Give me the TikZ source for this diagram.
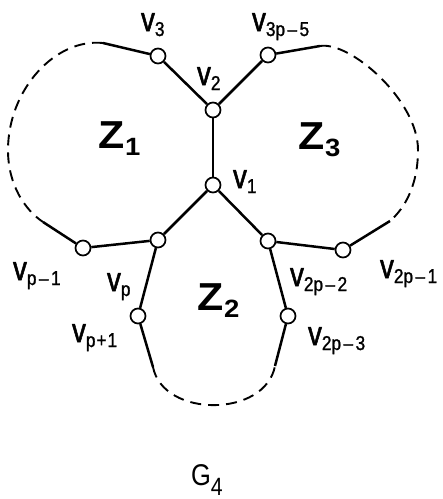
\documentclass[tikz,border=0pt]{standalone}
\usepackage{graphicx}
\usepackage{fontspec}
\newfontfamily\labf{Liberation Sans}[FakeStretch=0.82,FakeBold=1.5]
\newfontfamily\subf{Liberation Sans}[FakeStretch=0.86,FakeBold=1.2]
\newfontfamily\gf{Liberation Sans}[FakeStretch=0.85]
\newfontfamily\zedf{Liberation Sans}[FakeStretch=1.1]
\newcommand\dsh{\kern2.5pt\textendash\kern2.5pt}
\newcommand\lv[1]{{\labf\fontsize{34}{34}\selectfont v}\raisebox{-5pt}{\subf\fontsize{20}{20}\selectfont #1}}
\newcommand\lz[1]{{\zedf\bfseries\fontsize{39}{39}\selectfont Z}\kern1pt\raisebox{-7pt}{\zedf\bfseries\fontsize{25}{25}\selectfont #1}}
\tikzset{
  vtx/.style={circle,draw,fill=white,line width=1.7pt,minimum size=15pt,inner sep=0pt},
  edge/.style={line width=2.5pt},
  dashline/.style={line width=1.9pt,dash pattern=on 11pt off 7pt},
  lab/.style={anchor=base west,inner sep=0pt,outer sep=0pt}
}
\begin{document}
\begin{tikzpicture}[x=1pt,y=-1pt]
\useasboundingbox (0,0) rectangle (443,499);
% free ends
\coordinate (a1) at (103,43);
\coordinate (a2) at (43,222);
\coordinate (b1) at (320,46);
\coordinate (b2) at (390,221);
\coordinate (c1) at (153,367);
\coordinate (c2) at (275,366);
% dashed arcs
\draw[dashline] (a1) .. controls (55,38) and (8,90) .. (8,150) .. controls (8,185) and (25,210) .. (a2);
\draw[dashline] (b1) .. controls (350,41) and (418,100) .. (418,150) .. controls (418,185) and (405,208) .. (b2);
\draw[dashline] (c1) .. controls (163,418) and (265,418) .. (c2);
% vertices
\node[vtx] (v1) at (213,185) {};
\node[vtx] (v2) at (213,110) {};
\node[vtx] (v3) at (158,56) {};
\node[vtx] (vq) at (268,55) {};
\node[vtx] (vp) at (158,240) {};
\node[vtx] (vpm) at (83,248) {};
\node[vtx] (vpp) at (138,316) {};
\node[vtx] (w2) at (268,241) {};
\node[vtx] (w1) at (343,250) {};
\node[vtx] (w3) at (288,316) {};
% solid edges
\draw[edge] (v1) -- (v2);
\draw[edge] (v1) -- (vp);
\draw[edge] (v1) -- (w2);
\draw[edge] (v2) -- (v3);
\draw[edge] (v2) -- (vq);
\draw[edge] (v3) -- (a1);
\draw[edge] (vq) -- (b1);
\draw[edge] (vp) -- (vpm);
\draw[edge] (vpm) -- (a2);
\draw[edge] (vp) -- (vpp);
\draw[edge] (vpp) -- (c1);
\draw[edge] (w2) -- (w1);
\draw[edge] (w1) -- (b2);
\draw[edge] (w2) -- (w3);
\draw[edge] (w3) -- (c2);
% labels
\node[lab] (l3) at (141,31) {\lv{3}};
\node[lab] (lq) at (252,31) {\lv{3p\dsh5}};
\node[lab] (l2) at (197,85) {\lv{2}};
\node[lab] (l1) at (233,188) {\lv{1}};
\node[lab] (lpm) at (13,280) {\lv{p\dsh1}};
\node[lab] (lp) at (107,291) {\lv{p}};
\node[lab] (lpp) at (72,342) {\lv{p\kern1pt+\kern1pt1}};
\node[lab] (lw2) at (290,286) {\lv{2p\dsh2}};
\node[lab] (lw1) at (380,278) {\lv{2p\dsh1}};
\node[lab] (lw3) at (308,345) {\lv{2p\dsh3}};
\node[lab] (z1) at (98,148) {\lz{1}};
\node[lab] (z3) at (298,149) {\lz{3}};
\node[lab] (z2) at (197,310) {\lz{2}};
\node[lab] (g4) at (191,485) {{\gf\fontsize{30}{30}\selectfont G}\raisebox{-10pt}{\gf\fontsize{25}{25}\selectfont 4}};
\end{tikzpicture}
\end{document}
